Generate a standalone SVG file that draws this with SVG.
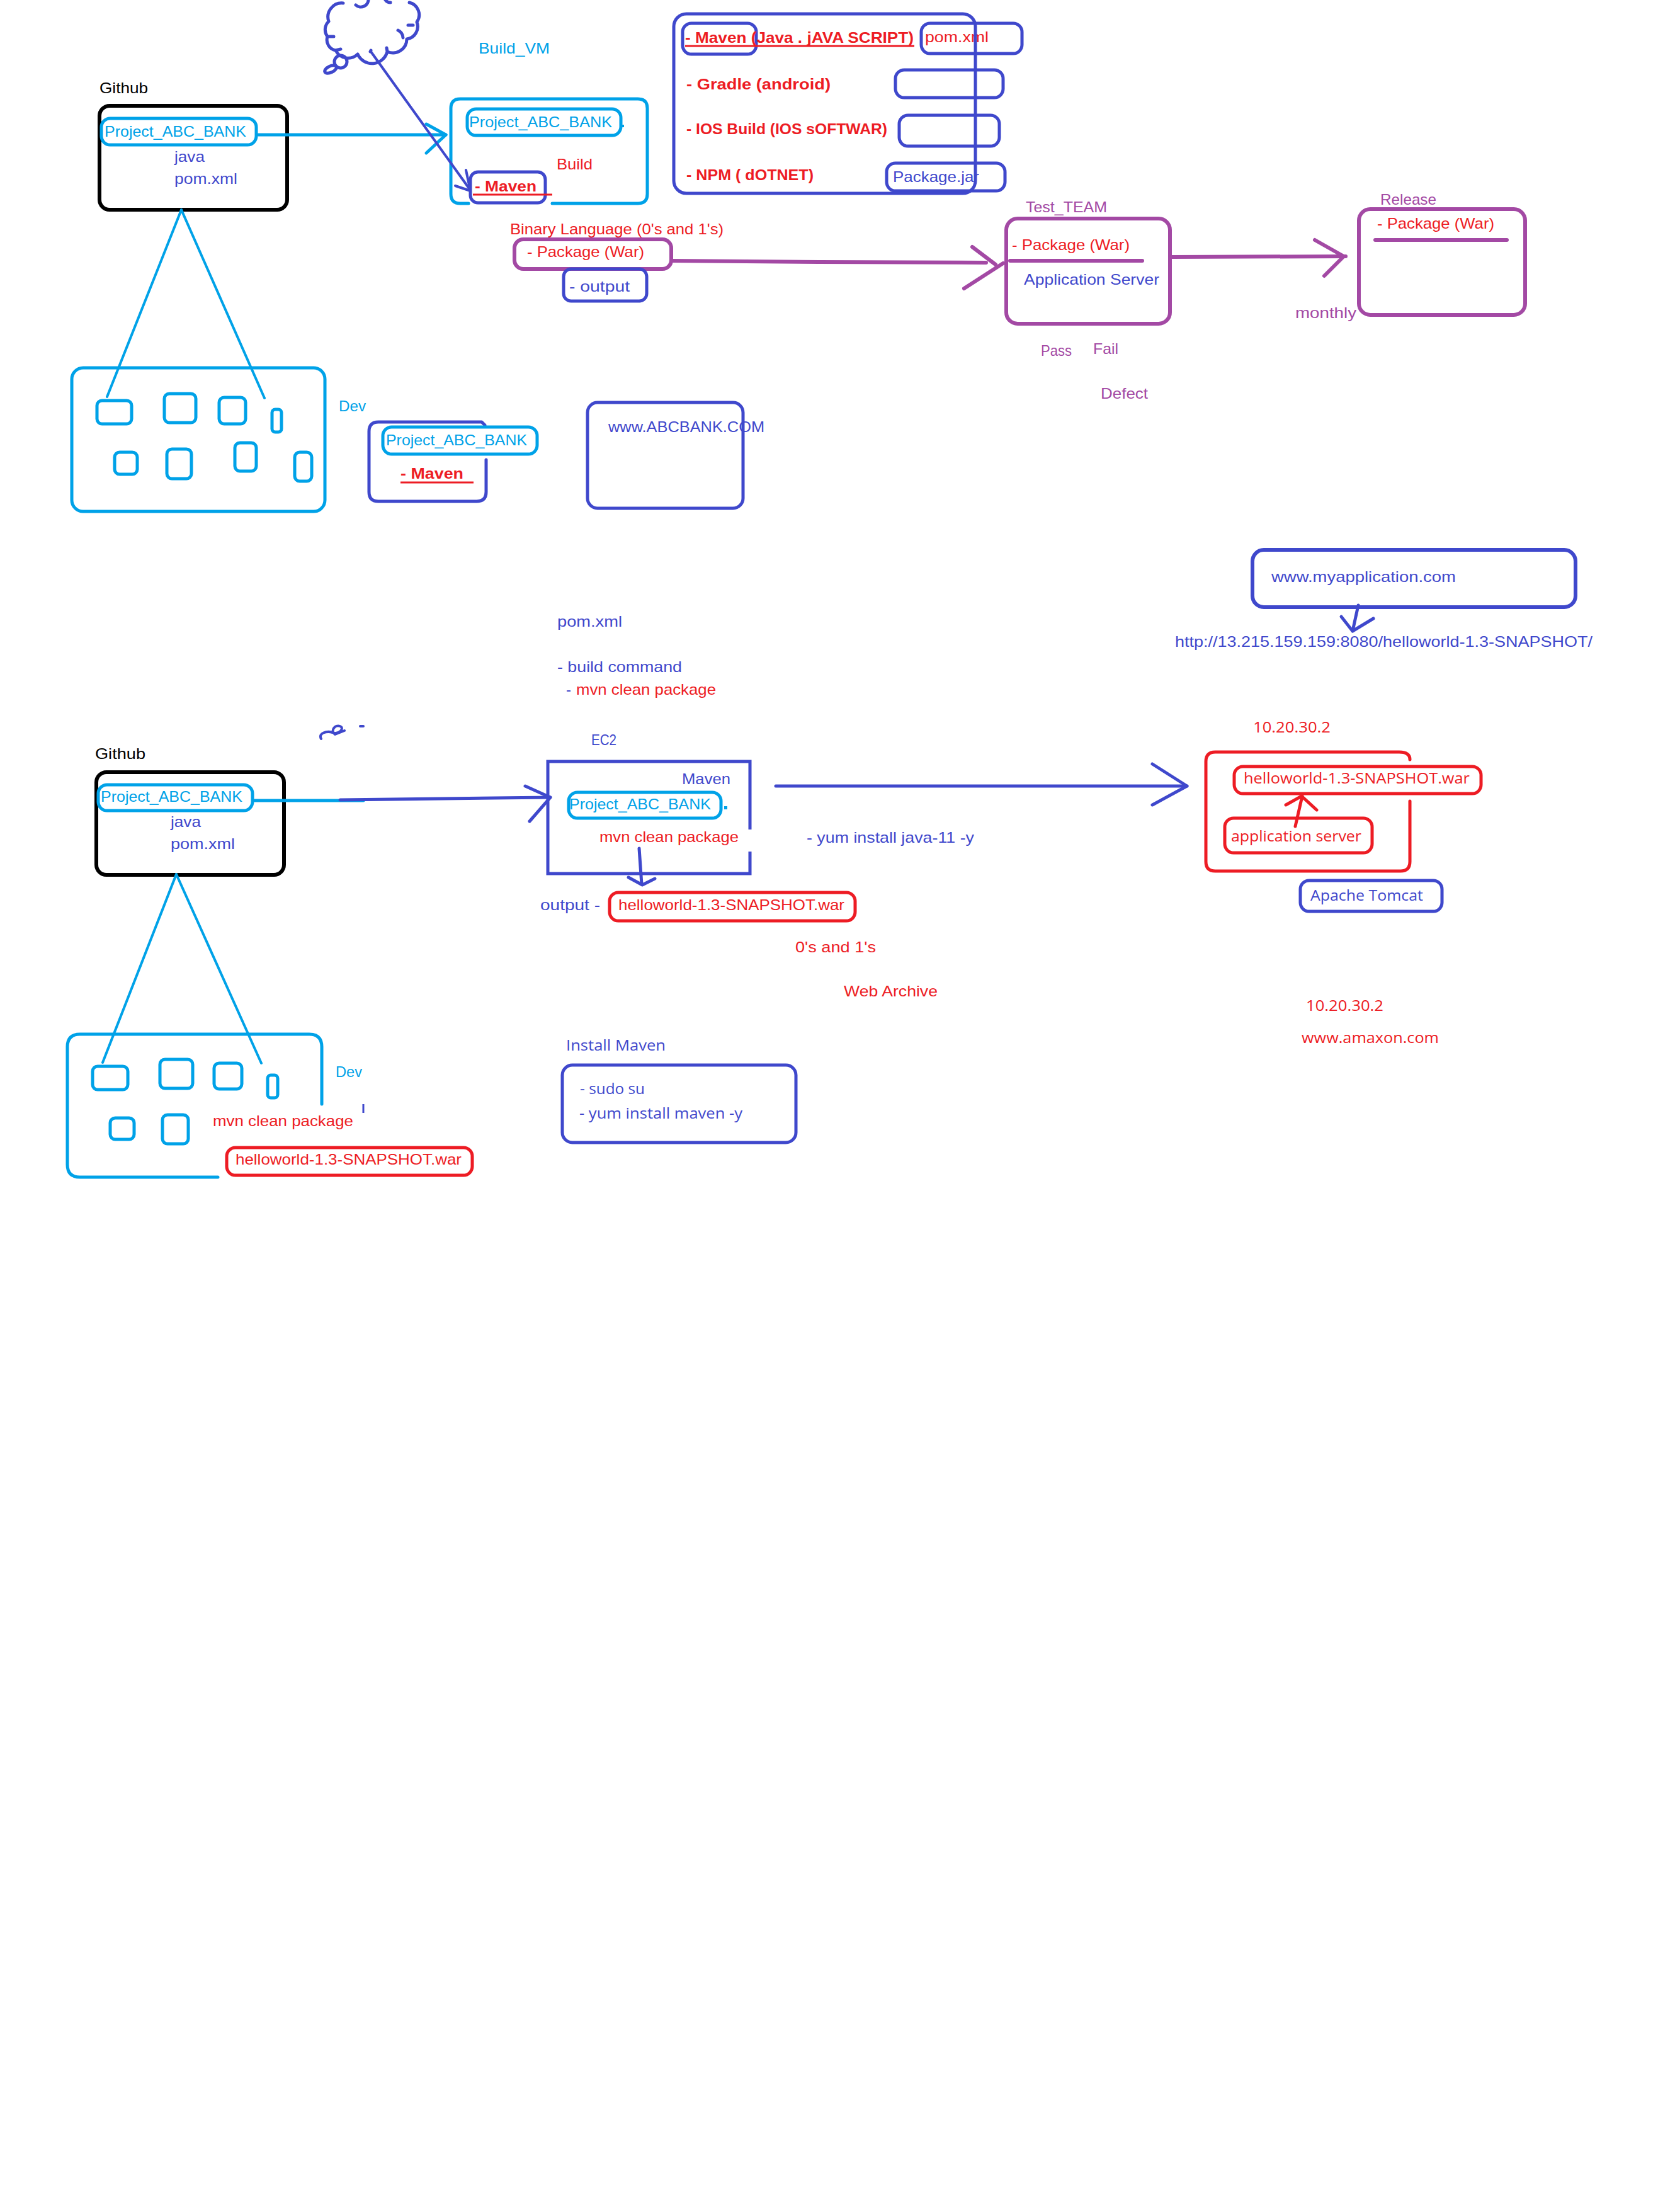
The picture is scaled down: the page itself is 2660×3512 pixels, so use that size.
<svg xmlns="http://www.w3.org/2000/svg" width="2660" height="3512" viewBox="0 0 2660 3512">
<style>
.c{font-family:"Liberation Sans",Arial,sans-serif;font-size:24px}
.s{font-family:"Open Sans","Noto Sans",sans-serif;font-size:24px}
.b{font-weight:bold}
.cy{fill:#00A2E8}.bl{fill:#3F48CC}.rd{fill:#ED1C24}.pu{fill:#A349A4}.bk{fill:#000}
.scy{fill:none;stroke:#00A2E8;stroke-width:5;stroke-linecap:round;stroke-linejoin:round}
.sbl{fill:none;stroke:#3F48CC;stroke-width:5;stroke-linecap:round;stroke-linejoin:round}
.srd{fill:none;stroke:#ED1C24;stroke-width:5;stroke-linecap:round;stroke-linejoin:round}
.spu{fill:none;stroke:#A349A4;stroke-width:6;stroke-linecap:round;stroke-linejoin:round}
.sbk{fill:none;stroke:#000;stroke-width:6}
.ln{stroke-width:4}
</style>
<rect width="2660" height="3512" fill="#fff"/>

<g id="github-top">
<text class="c bk" x="158" y="148" textLength="77" lengthAdjust="spacingAndGlyphs">Github</text>
<rect x="158" y="168" width="298" height="165" rx="16" class="sbk"/>
<rect x="161" y="188" width="246" height="42" rx="14" class="scy"/>
<text class="c cy" x="166" y="217" textLength="225" lengthAdjust="spacingAndGlyphs">Project_ABC_BANK</text>
<text class="c bl" x="277" y="257" textLength="48" lengthAdjust="spacingAndGlyphs">java</text>
<text class="c bl" x="277" y="292" textLength="100" lengthAdjust="spacingAndGlyphs">pom.xml</text>
</g>

<g id="cloud">
<path class="sbl" d="M522 34 A18 18 0 0 0 520 58 A17 17 0 0 0 533 80 A22 22 0 0 0 568 86 A25 25 0 0 0 615 82 A22 22 0 0 0 646 62 A20 20 0 0 0 662 35 A20 20 0 0 0 650 4 M522 34 A22 22 0 0 1 545 5 M565 8 A12 12 0 0 0 585 -2 M612 0 A10 10 0 0 0 620 4 M640 60 A14 14 0 0 0 632 48 M522 58 L530 58 M648 40 L656 40 M533 80 L541 78 M588 82 L589 80 M615 82 L614 76"/>
<circle cx="541" cy="98" r="10" class="sbl"/>
<ellipse cx="525" cy="110" rx="10" ry="5" transform="rotate(-25 525 110)" class="sbl"/>
</g>

<g id="build-vm">
<text class="c cy" x="760" y="85" textLength="113" lengthAdjust="spacingAndGlyphs">Build_VM</text>
<path class="scy" d="M877 323 H1013 Q1028 323 1028 308 V172 Q1028 157 1013 157 H731 Q716 157 716 172 V308 Q716 323 731 323 H744"/>
<rect x="742" y="173" width="244" height="42" rx="14" class="scy"/>
<text class="c cy" x="745" y="202" textLength="227" lengthAdjust="spacingAndGlyphs">Project_ABC_BANK</text>
<rect x="988" y="198" width="3" height="4" class="cy"/>
<text class="c rd" x="884" y="269" textLength="57" lengthAdjust="spacingAndGlyphs">Build</text>
<rect x="747" y="273" width="119" height="49" rx="12" class="sbl"/>
<text class="c rd b" x="754" y="304" textLength="98" lengthAdjust="spacingAndGlyphs">- Maven</text>
<line x1="751" y1="309" x2="877" y2="309" stroke="#ED1C24" stroke-width="3"/>
</g>

<g id="tools-list">
<rect x="1084" y="37" width="117" height="49" rx="14" class="sbl"/>
<text class="c rd b" x="1088" y="68" textLength="363" lengthAdjust="spacingAndGlyphs">- Maven  (Java . jAVA SCRIPT)</text>
<line x1="1088" y1="73" x2="1452" y2="73" stroke="#ED1C24" stroke-width="3"/>
<rect x="1463" y="37" width="160" height="48" rx="14" class="sbl"/>
<text class="c rd" x="1469" y="67" textLength="101" lengthAdjust="spacingAndGlyphs">pom.xml</text>
<text class="c rd b" x="1090" y="142" textLength="229" lengthAdjust="spacingAndGlyphs">-  Gradle  (android)</text>
<rect x="1422" y="111" width="171" height="44" rx="14" class="sbl"/>
<text class="c rd b" x="1090" y="213" textLength="319" lengthAdjust="spacingAndGlyphs">- IOS Build (IOS sOFTWAR)</text>
<rect x="1428" y="183" width="159" height="49" rx="14" class="sbl"/>
<text class="c rd b" x="1090" y="286" textLength="202" lengthAdjust="spacingAndGlyphs">- NPM ( dOTNET)</text>
<rect x="1408" y="259" width="188" height="44" rx="14" class="sbl"/>
<text class="c bl" x="1418" y="289" textLength="137" lengthAdjust="spacingAndGlyphs">Package.jar</text>
<rect x="1070" y="22" width="479" height="285" rx="20" class="sbl"/>
</g>

<g id="binary-package">
<text class="c rd" x="810" y="372" textLength="339" lengthAdjust="spacingAndGlyphs">Binary Language (0's and 1's)</text>
<rect x="817" y="380" width="249" height="47" rx="14" class="spu"/>
<text class="c rd" x="837" y="408" textLength="186" lengthAdjust="spacingAndGlyphs">- Package (War)</text>
</g>
<g id="output-top">
<rect x="895" y="427" width="132" height="51" rx="12" class="sbl"/>
<text class="c bl" x="904" y="463" textLength="96" lengthAdjust="spacingAndGlyphs">- output</text>
</g>

<g id="test-team">
<text class="c pu" x="1629" y="337" textLength="129" lengthAdjust="spacingAndGlyphs">Test_TEAM</text>
<rect x="1598" y="347" width="260" height="167" rx="18" class="spu"/>
<text class="c rd" x="1607" y="397" textLength="187" lengthAdjust="spacingAndGlyphs">- Package (War)</text>
<line x1="1604" y1="414" x2="1814" y2="414" class="spu"/>
<text class="c bl" x="1626" y="452" textLength="215" lengthAdjust="spacingAndGlyphs">Application Server</text>
<text class="c pu" x="1653" y="565" textLength="49" lengthAdjust="spacingAndGlyphs">Pass</text>
<text class="c pu" x="1736" y="562" textLength="40" lengthAdjust="spacingAndGlyphs">Fail</text>
<text class="c pu" x="1748" y="633" textLength="75" lengthAdjust="spacingAndGlyphs">Defect</text>
</g>

<g id="release">
<text class="c pu" x="2192" y="325" textLength="89" lengthAdjust="spacingAndGlyphs">Release</text>
<rect x="2158" y="332" width="264" height="168" rx="18" class="spu"/>
<text class="c rd" x="2187" y="363" textLength="186" lengthAdjust="spacingAndGlyphs">- Package (War)</text>
<line x1="2184" y1="381" x2="2393" y2="381" class="spu"/>
<text class="c pu" x="2057" y="505" textLength="97" lengthAdjust="spacingAndGlyphs">monthly</text>
</g>

<g id="dev-top">
<rect x="114" y="584" width="402" height="228" rx="18" class="scy"/>
<rect x="154" y="636" width="55" height="37" rx="8" class="scy"/>
<rect x="261" y="625" width="50" height="46" rx="8" class="scy"/>
<rect x="348" y="631" width="42" height="42" rx="8" class="scy"/>
<rect x="432" y="650" width="15" height="36" rx="5" class="scy"/>
<rect x="182" y="718" width="36" height="35" rx="8" class="scy"/>
<rect x="265" y="713" width="39" height="47" rx="8" class="scy"/>
<rect x="373" y="703" width="34" height="45" rx="8" class="scy"/>
<rect x="468" y="718" width="27" height="46" rx="8" class="scy"/>
<text class="c cy" x="538" y="653" textLength="43" lengthAdjust="spacingAndGlyphs">Dev</text>
</g>

<g id="dev-project">
<path class="sbl" d="M772 730 V781 Q772 796 757 796 H601 Q586 796 586 781 V685 Q586 670 601 670 H765 L770 675"/>
<rect x="608" y="678" width="245" height="43" rx="14" class="scy"/>
<text class="c cy" x="613" y="707" textLength="224" lengthAdjust="spacingAndGlyphs">Project_ABC_BANK</text>
<text class="c rd b" x="636" y="760" textLength="100" lengthAdjust="spacingAndGlyphs">- Maven</text>
<line x1="636" y1="766" x2="752" y2="766" stroke="#ED1C24" stroke-width="3"/>
</g>

<g id="abcbank">
<rect x="933" y="639" width="247" height="168" rx="16" class="sbl"/>
<text class="c bl" x="966" y="686" textLength="248" lengthAdjust="spacingAndGlyphs">www.ABCBANK.COM</text>
</g>

<g id="notes-build">
<text class="c bl" x="885" y="995" textLength="103" lengthAdjust="spacingAndGlyphs">pom.xml</text>
<text class="c bl" x="885" y="1067" textLength="198" lengthAdjust="spacingAndGlyphs">- build command</text>
<text class="c bl" x="899" y="1103">-</text>
<text class="c rd" x="915" y="1103" textLength="222" lengthAdjust="spacingAndGlyphs">mvn clean package</text>
</g>

<g id="myapplication">
<rect x="1989" y="873" width="513" height="91" rx="18" class="sbl" style="stroke-width:6"/>
<text class="c bl" x="2019" y="924" textLength="293" lengthAdjust="spacingAndGlyphs">www.myapplication.com</text>
</g>
<g id="url">
<text class="c bl" x="1866" y="1027" textLength="663" lengthAdjust="spacingAndGlyphs">http://13.215.159.159:8080/helloworld-1.3-SNAPSHOT/</text>
</g>

<g id="doodle">
<path class="sbl" style="stroke-width:4" d="M510 1173 C505 1164 519 1160 528 1163 C538 1167 548 1156 540 1153 C532 1150 524 1160 532 1166 L547 1160 M572 1153 L577 1153"/>
</g>

<g id="github-bottom">
<text class="c bk" x="151" y="1205" textLength="80" lengthAdjust="spacingAndGlyphs">Github</text>
<rect x="153" y="1226" width="298" height="163" rx="16" class="sbk"/>
<rect x="156" y="1246" width="245" height="41" rx="14" class="scy"/>
<text class="c cy" x="160" y="1273" textLength="225" lengthAdjust="spacingAndGlyphs">Project_ABC_BANK</text>
<text class="c bl" x="271" y="1313" textLength="48" lengthAdjust="spacingAndGlyphs">java</text>
<text class="c bl" x="271" y="1348" textLength="102" lengthAdjust="spacingAndGlyphs">pom.xml</text>
</g>

<g id="ec2">
<text class="c bl" x="939" y="1183" textLength="40" lengthAdjust="spacingAndGlyphs">EC2</text>
<path class="sbl" style="stroke-linecap:butt;stroke-linejoin:miter" d="M1191 1352 V1387 H870 V1209 H1191 V1317"/>
<text class="c bl" x="1083" y="1245" textLength="77" lengthAdjust="spacingAndGlyphs">Maven</text>
<rect x="903" y="1258" width="242" height="41" rx="14" class="scy"/>
<text class="c cy" x="904" y="1285" textLength="225" lengthAdjust="spacingAndGlyphs">Project_ABC_BANK</text>
<rect x="1150" y="1280" width="5" height="5" class="cy"/>
<text class="c rd" x="952" y="1337" textLength="221" lengthAdjust="spacingAndGlyphs">mvn clean package</text>
</g>

<g id="ec2-output">
<text class="c bl" x="858" y="1445" textLength="95" lengthAdjust="spacingAndGlyphs">output -</text>
<rect x="968" y="1417" width="390" height="45" rx="14" class="srd"/>
<text class="c rd" x="982" y="1445" textLength="359" lengthAdjust="spacingAndGlyphs">helloworld-1.3-SNAPSHOT.war</text>
</g>

<g id="notes-ec2">
<text class="c bl" x="1281" y="1338" textLength="266" lengthAdjust="spacingAndGlyphs">- yum install java-11 -y</text>
<text class="c rd" x="1263" y="1512" textLength="128" lengthAdjust="spacingAndGlyphs">0's  and 1's</text>
<text class="c rd" x="1340" y="1582" textLength="149" lengthAdjust="spacingAndGlyphs">Web Archive</text>
</g>

<g id="server">
<text class="s rd" x="1990" y="1163" textLength="123" lengthAdjust="spacingAndGlyphs">10.20.30.2</text>
<path class="srd" d="M2239 1272 V1368 Q2239 1383 2224 1383 H1930 Q1915 1383 1915 1368 V1209 Q1915 1194 1930 1194 H2222 Q2239 1194 2239 1206"/>
<rect x="1960" y="1217" width="392" height="43" rx="14" class="srd"/>
<text class="s rd" x="1975" y="1244" textLength="359" lengthAdjust="spacingAndGlyphs">helloworld-1.3-SNAPSHOT.war</text>
<rect x="1945" y="1299" width="234" height="55" rx="14" class="srd"/>
<text class="s rd" x="1955" y="1336" textLength="207" lengthAdjust="spacingAndGlyphs">application server</text>
</g>

<g id="tomcat">
<rect x="2065" y="1398" width="225" height="49" rx="14" class="sbl"/>
<text class="s bl" x="2081" y="1430" textLength="179" lengthAdjust="spacingAndGlyphs">Apache Tomcat</text>
</g>

<g id="notes-server">
<text class="s rd" x="2074" y="1605" textLength="123" lengthAdjust="spacingAndGlyphs">10.20.30.2</text>
<text class="s rd" x="2067" y="1656" textLength="218" lengthAdjust="spacingAndGlyphs">www.amaxon.com</text>
</g>

<g id="dev-bottom">
<path class="scy" d="M346 1869 H127 Q107 1869 107 1849 V1662 Q107 1642 127 1642 H491 Q511 1642 511 1662 V1753"/>
<rect x="147" y="1693" width="56" height="37" rx="8" class="scy"/>
<rect x="254" y="1682" width="52" height="46" rx="8" class="scy"/>
<rect x="340" y="1688" width="44" height="41" rx="8" class="scy"/>
<rect x="425" y="1707" width="16" height="36" rx="5" class="scy"/>
<rect x="175" y="1775" width="38" height="34" rx="8" class="scy"/>
<rect x="258" y="1770" width="41" height="46" rx="8" class="scy"/>
<text class="c cy" x="533" y="1710" textLength="42" lengthAdjust="spacingAndGlyphs">Dev</text>
<line x1="577" y1="1753" x2="577" y2="1767" stroke="#3F48CC" stroke-width="3"/>
<text class="c rd" x="338" y="1788" textLength="223" lengthAdjust="spacingAndGlyphs">mvn clean package</text>
<rect x="360" y="1822" width="390" height="44" rx="14" class="srd"/>
<text class="c rd" x="374" y="1849" textLength="359" lengthAdjust="spacingAndGlyphs">helloworld-1.3-SNAPSHOT.war</text>
</g>

<g id="install-maven">
<text class="s bl" x="899" y="1668" textLength="158" lengthAdjust="spacingAndGlyphs">Install Maven</text>
<rect x="893" y="1691" width="371" height="123" rx="16" class="sbl"/>
<text class="s bl" x="921" y="1737" textLength="103" lengthAdjust="spacingAndGlyphs">- sudo su</text>
<text class="s bl" x="920" y="1776" textLength="259" lengthAdjust="spacingAndGlyphs">- yum install maven -y</text>
</g>

<g id="connectors">
<line x1="410" y1="214" x2="708" y2="214" class="scy"/>
<polyline points="677,197 708,214 677,243" class="scy"/>
<line x1="288" y1="333" x2="170" y2="630" class="scy ln"/>
<line x1="288" y1="333" x2="420" y2="632" class="scy ln"/>
<line x1="589" y1="82" x2="747" y2="302" class="sbl ln"/>
<polyline points="723,295 747,303 740,270" class="sbl ln"/>
<polyline points="1066,414 1300,416 1566,417" class="spu"/>
<line x1="1544" y1="392" x2="1581" y2="420" class="spu"/>
<line x1="1531" y1="458" x2="1593" y2="418" class="spu"/>
<line x1="1861" y1="408" x2="2137" y2="407" class="spu"/>
<polyline points="2088,381 2134,407 2103,438" class="spu"/>
<line x1="2157" y1="961" x2="2148" y2="1002" class="sbl"/>
<polyline points="2130,979 2148,1002 2181,982" class="sbl"/>
<line x1="280" y1="1388" x2="163" y2="1687" class="scy ln"/>
<line x1="280" y1="1388" x2="415" y2="1688" class="scy ln"/>
<line x1="404" y1="1271" x2="577" y2="1271" class="scy"/>
<line x1="540" y1="1270" x2="874" y2="1266" class="sbl"/>
<polyline points="834,1248 874,1266 841,1304" class="sbl"/>
<line x1="1015" y1="1347" x2="1019" y2="1404" class="sbl"/>
<polyline points="998,1393 1020,1405 1040,1395" class="sbl"/>
<line x1="1232" y1="1248" x2="1885" y2="1248" class="sbl"/>
<polyline points="1830,1213 1885,1248 1830,1278" class="sbl"/>
<line x1="2057" y1="1312" x2="2068" y2="1264" class="srd"/>
<polyline points="2042,1278 2067,1264 2091,1286" class="srd"/>
</g>
</svg>
